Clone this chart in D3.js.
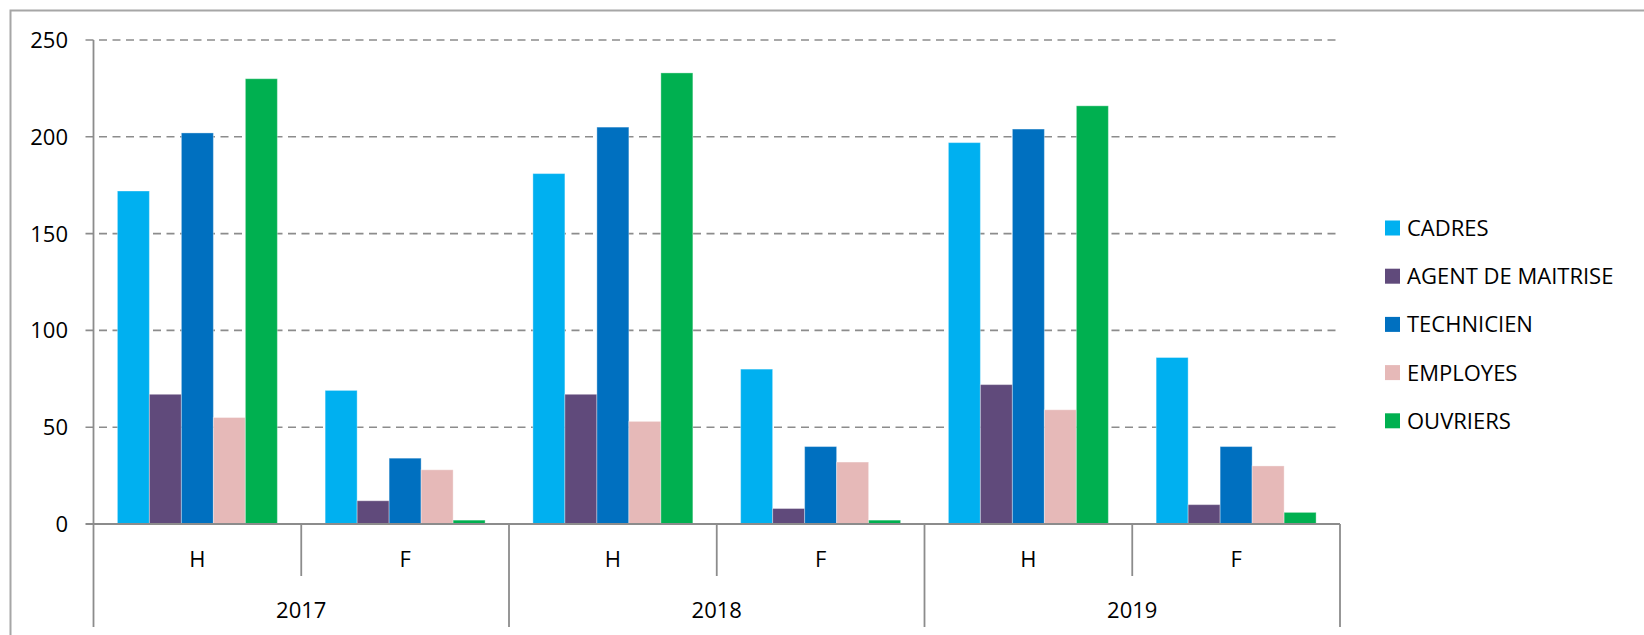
<!DOCTYPE html>
<html lang="fr">
<head>
  <meta charset="UTF-8">
  <title>Effectifs par catégorie</title>
  <script src="https://d3js.org/d3.v7.min.js"></script>
  <style>
      body {
          margin: 0;
          padding: 0;
          background: #fff;
          overflow: hidden;
          font-family: 'Open Sans', sans-serif;
      }
      svg { display: block; }
  </style>
</head>
<body>
  <svg width="1644" height="635"></svg>
  <script>
      // data
      const years = ["2017", "2018", "2019"];
      const sexes = ["H", "F"];
      const series = ["CADRES", "AGENT DE MAITRISE", "TECHNICIEN", "EMPLOYES", "OUVRIERS"];
      const colors = ["#00B0F0", "#604A7B", "#0070C0", "#E6B9B8", "#00B050"];
      // one row per year/sex group, in series order
      const values = [
          [172, 67, 202, 55, 230],  // 2017 H
          [69, 12, 34, 28, 2],      // 2017 F
          [181, 67, 205, 53, 233],  // 2018 H
          [80, 8, 40, 32, 2],       // 2018 F
          [197, 72, 204, 59, 216],  // 2019 H
          [86, 10, 40, 30, 6]       // 2019 F
      ];
      const yTicks = [0, 50, 100, 150, 200, 250];

      const svg = d3.select("svg");
      const axisColor = "#8c8c8c";

      // outer frame (only top and left visible in the crop)
      svg.append("path")
          .attr("d", "M10.5,635 V10.5 H1644")
          .attr("fill", "none")
          .attr("stroke", "#a6a6a6")
          .attr("stroke-width", 2);

      const plotLeft = 93.5, plotRight = 1340, plotTop = 40, plotBottom = 524;

      const groups = [];
      years.forEach(y => sexes.forEach(s => groups.push(y + "-" + s)));

      const x0 = d3.scaleBand().domain(groups).range([plotLeft, plotRight]).padding(0);
      const gapFrac = 0.115;
      const x1 = d3.scaleBand().domain(series)
          .range([x0.bandwidth() * gapFrac, x0.bandwidth() * (1 - gapFrac)]);
      const y = d3.scaleLinear().domain([0, 250]).range([plotBottom, plotTop]);

      // gridlines
      svg.append("g")
          .selectAll("line")
          .data(yTicks.filter(d => d > 0))
          .join("line")
          .attr("x1", plotLeft - 8)
          .attr("x2", plotRight)
          .attr("y1", d => y(d))
          .attr("y2", d => y(d))
          .attr("stroke", axisColor)
          .attr("stroke-width", 1.6)
          .attr("stroke-dasharray", "8,5.5");

      // y tick labels
      svg.append("g")
          .selectAll("text")
          .data(yTicks)
          .join("text")
          .attr("x", 68)
          .attr("y", d => y(d))
          .attr("dy", "0.36em")
          .attr("text-anchor", "end")
          .attr("font-size", "22px")
          .attr("fill", "#000")
          .text(d => d);

      // bars
      const gBars = svg.append("g");
      values.forEach((row, gi) => {
          gBars.append("g")
              .attr("transform", `translate(${x0(groups[gi])},0)`)
              .selectAll("rect")
              .data(row)
              .join("rect")
              .attr("x", (d, i) => x1(series[i]))
              .attr("y", d => y(d))
              .attr("width", x1.bandwidth())
              .attr("height", d => y(0) - y(d))
              .attr("fill", (d, i) => colors[i])
              .attr("stroke", "#ffffff")
              .attr("stroke-opacity", 0.35)
              .attr("stroke-width", 1);
      });

      // axes
      svg.append("line")
          .attr("x1", plotLeft).attr("x2", plotLeft)
          .attr("y1", plotTop).attr("y2", plotBottom)
          .attr("stroke", axisColor).attr("stroke-width", 1.8);
      svg.append("line")
          .attr("x1", plotLeft - 8).attr("x2", plotRight)
          .attr("y1", plotBottom).attr("y2", plotBottom)
          .attr("stroke", axisColor).attr("stroke-width", 1.8);

      // category dividers: short between H/F, long between years
      const dividers = d3.range(groups.length + 1).map(i => ({
          x: i < groups.length ? x0(groups[i]) : plotRight,
          long: i % 2 === 0
      }));
      svg.append("g")
          .selectAll("line")
          .data(dividers)
          .join("line")
          .attr("x1", d => d.x).attr("x2", d => d.x)
          .attr("y1", plotBottom)
          .attr("y2", d => d.long ? 627 : 576)
          .attr("stroke", axisColor)
          .attr("stroke-width", 1.8);

      // sex labels
      svg.append("g")
          .selectAll("text")
          .data(groups)
          .join("text")
          .attr("x", d => x0(d) + x0.bandwidth() / 2)
          .attr("y", 567)
          .attr("text-anchor", "middle")
          .attr("font-size", "22px")
          .attr("fill", "#000")
          .text(d => d.split("-")[1]);

      // year labels
      svg.append("g")
          .selectAll("text")
          .data(years)
          .join("text")
          .attr("x", d => x0(d + "-H") + x0.bandwidth())
          .attr("y", 618)
          .attr("text-anchor", "middle")
          .attr("font-size", "22px")
          .attr("fill", "#000")
          .text(d => d);

      // legend
      const legend = svg.append("g")
          .attr("transform", "translate(1385,228)");
      const rowH = 48.2;
      series.forEach((s, i) => {
          legend.append("rect")
              .attr("x", 0)
              .attr("y", i * rowH - 7.5)
              .attr("width", 15)
              .attr("height", 15)
              .attr("fill", colors[i]);
          legend.append("text")
              .attr("x", 22)
              .attr("y", i * rowH)
              .attr("dy", "0.36em")
              .attr("font-size", "22px")
              .attr("fill", "#000")
              .text(s);
      });
  </script>
</body>
</html>
